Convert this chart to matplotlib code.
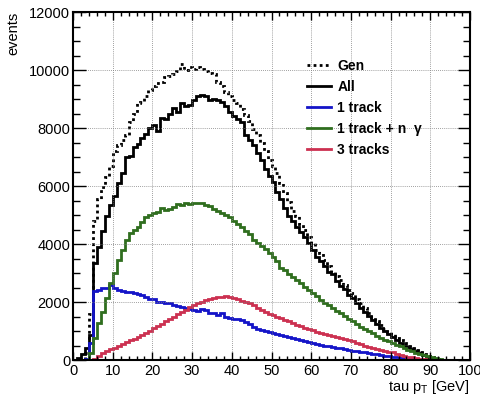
import numpy as np
import matplotlib
matplotlib.use('Agg')
import matplotlib.pyplot as plt
from matplotlib.ticker import MultipleLocator

plt.rcParams['font.family'] = ['Liberation Sans', 'DejaVu Sans']
plt.rcParams['mathtext.default'] = 'regular'

# bin edges in GeV (1 GeV bins from 0 to 100)
bin_edges = list(range(0, 101))

# events per bin
gen = [0, 0, 40, 250, 1600, 4800, 5550, 5950, 6300, 6700,
       7200, 7400, 7600, 7750, 8200, 8500, 8850, 8900, 9100, 9300,
       9450, 9550, 9600, 9750, 9800, 9850, 9950, 10200, 10000, 10100,
       10050, 10100, 10050, 9950, 9900, 9850, 9600, 9450, 9250, 9100,
       8950, 8850, 8650, 8450, 8250, 7950, 7750, 7480, 7200, 6900,
       6700, 6450, 6100, 5750, 5450, 5150, 4950, 4700, 4500, 4250,
       4050, 3800, 3700, 3450, 3250, 3050, 2900, 2750, 2600, 2400,
       2300, 2100, 1950, 1800, 1620, 1480, 1350, 1220, 1080, 960,
       880, 770, 680, 590, 500, 430, 350, 280, 200, 140,
       90, 50, 20, 5, 0, 0, 0, 0, 0, 0]

all_tracks = [0, 60, 200, 400, 850, 3350, 3900, 4450, 4950, 5350,
              5650, 6100, 6450, 7000, 7050, 7350, 7450, 7650, 7800, 8000,
              8100, 7900, 8350, 8300, 8500, 8700, 8550, 8850, 8750, 8800,
              8950, 9100, 9150, 9100, 8950, 9000, 8950, 8900, 8750, 8550,
              8400, 8300, 8220, 7750, 7600, 7400, 7150, 6900, 6600, 6350,
              6150, 5800, 5550, 5250, 4950, 4800, 4600, 4420, 4250, 4050,
              3800, 3550, 3420, 3250, 3050, 2950, 2720, 2550, 2450, 2250,
              2150, 1950, 1800, 1650, 1520, 1380, 1250, 1100, 1000, 880,
              800, 680, 580, 500, 440, 380, 300, 230, 180, 120,
              70, 30, 10, 0, 0, 0, 0, 0, 0, 0]

one_track = [0, 0, 0, 50, 600, 2390, 2420, 2470, 2500, 2590,
             2470, 2420, 2390, 2360, 2350, 2300, 2290, 2240, 2180, 2090,
             2110, 2010, 2000, 1950, 1950, 1900, 1860, 1820, 1780, 1750,
             1720, 1700, 1750, 1720, 1630, 1610, 1550, 1610, 1500, 1440,
             1400, 1420, 1370, 1300, 1230, 1150, 1080, 1040, 990, 950,
             920, 890, 860, 820, 790, 760, 720, 690, 650, 620,
             590, 550, 520, 490, 470, 450, 420, 400, 370, 350,
             320, 300, 280, 260, 230, 210, 190, 170, 150, 130,
             110, 90, 70, 50, 35, 20, 10, 5, 0, 0,
             0, 0, 0, 0, 0, 0, 0, 0, 0, 0]

one_track_ngamma = [0, 0, 0, 0, 230, 750, 1260, 1670, 2130, 2640,
                    2990, 3450, 3790, 4140, 4370, 4480, 4600, 4750, 4940, 5000,
                    5060, 5120, 5230, 5170, 5190, 5290, 5380, 5350, 5400, 5390,
                    5430, 5420, 5400, 5360, 5300, 5200, 5140, 5060, 4990, 4940,
                    4780, 4700, 4580, 4440, 4330, 4150, 4040, 3930, 3820, 3700,
                    3560, 3420, 3180, 3090, 2980, 2870, 2760, 2660, 2530, 2410,
                    2300, 2190, 2080, 1980, 1880, 1780, 1700, 1620, 1520, 1430,
                    1340, 1240, 1150, 1070, 990, 920, 840, 760, 700, 640,
                    590, 530, 470, 420, 360, 310, 250, 210, 170, 130,
                    100, 60, 30, 15, 5, 0, 0, 0, 0, 0]

three_tracks = [0, 0, 0, 0, 0, 30, 130, 230, 300, 370,
                420, 500, 560, 620, 680, 730, 800, 870, 930, 1010,
                1100, 1170, 1250, 1330, 1410, 1500, 1580, 1650, 1740, 1820,
                1900, 1960, 2010, 2060, 2110, 2140, 2160, 2180, 2190, 2170,
                2130, 2090, 2050, 2000, 1950, 1880, 1800, 1720, 1660, 1600,
                1540, 1490, 1440, 1390, 1330, 1280, 1220, 1160, 1120, 1070,
                1020, 970, 930, 890, 860, 830, 800, 760, 720, 680,
                640, 590, 540, 500, 460, 420, 390, 360, 320, 290,
                260, 220, 180, 150, 120, 100, 70, 50, 30, 15,
                5, 0, 0, 0, 0, 0, 0, 0, 0, 0]

fig = plt.figure(figsize=(4.81, 3.97), dpi=100)
ax = fig.add_axes([73 / 481, 1 - 360 / 397, 397 / 481, 348 / 397])

ax.stairs(gen, bin_edges, color='black', linewidth=2, linestyle=(0, (1, 1.2)), label='Gen')
ax.stairs(all_tracks, bin_edges, color='black', linewidth=2, label='All')
ax.stairs(one_track, bin_edges, color='#1414c8', linewidth=2, label='1 track')
ax.stairs(one_track_ngamma, bin_edges, color='#2f6e1e', linewidth=2, label='1 track + n  \u03b3')
ax.stairs(three_tracks, bin_edges, color='#cc3050', linewidth=2, label='3 tracks')

ax.set_xlim(0, 100)
ax.set_ylim(0, 12000)
ax.xaxis.set_major_locator(MultipleLocator(10))
ax.xaxis.set_minor_locator(MultipleLocator(2))
ax.yaxis.set_major_locator(MultipleLocator(2000))
ax.yaxis.set_minor_locator(MultipleLocator(500))

ax.grid(True, which='major', color='0.5', linestyle=(0, (1, 1.5)), linewidth=0.6)
ax.tick_params(axis='both', which='both', direction='in', top=True, right=True,
               labelsize=10.5, width=1)
ax.tick_params(axis='x', which='major', length=6, pad=3)
ax.tick_params(axis='x', which='minor', length=3)
ax.tick_params(axis='y', which='major', length=9, pad=2)
ax.tick_params(axis='y', which='minor', length=5)
for spine in ax.spines.values():
    spine.set_linewidth(1.5)

ax.set_xlabel('tau p$_{T}$ [GeV]', loc='right', fontsize=10.5, labelpad=0)
ax.set_ylabel('events', loc='top', fontsize=10.5, labelpad=6)

ax.legend(loc='upper left', bbox_to_anchor=(0.589, 0.865), frameon=False,
          prop={'weight': 'bold', 'size': 10}, handlelength=1.75,
          handletextpad=0.45, labelspacing=0.5, borderpad=0, borderaxespad=0)

fig.savefig('out.png', dpi=100)
